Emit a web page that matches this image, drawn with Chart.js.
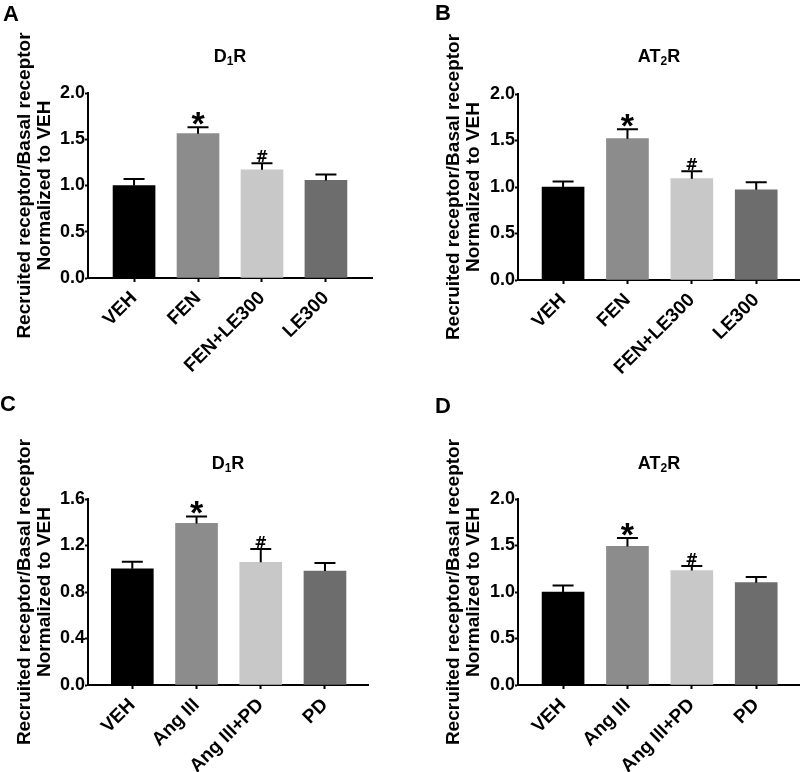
<!DOCTYPE html>
<html>
<head>
<meta charset="utf-8">
<script src="https://cdn.jsdelivr.net/npm/chart.js@4.4.1/dist/chart.umd.min.js"></script>
<style>
  html, body { margin: 0; padding: 0; background: #fff; }
  #wrap { position: relative; width: 800px; height: 772px; }
  .panel { position: absolute; width: 400px; height: 386px; }
</style>
</head>
<body>
<div id="wrap">
  <div class="panel" style="left:0;top:0"><canvas id="cA" width="400" height="386"></canvas></div>
  <div class="panel" style="left:400px;top:0"><canvas id="cB" width="400" height="386"></canvas></div>
  <div class="panel" style="left:0;top:386px"><canvas id="cC" width="400" height="386"></canvas></div>
  <div class="panel" style="left:400px;top:386px"><canvas id="cD" width="400" height="386"></canvas></div>
</div>
<script>
// categories
const fenLabels = ['VEH', 'FEN', 'FEN+LE300', 'LE300'];
const angLabels = ['VEH', 'Ang III', 'Ang III+PD', 'PD'];

// panel A: D1R, fenoldopam
const d1rFenMeans = [1.00, 1.56, 1.17, 1.055];
const d1rFenErr   = [0.07, 0.07, 0.07, 0.065];
// panel B: AT2R, fenoldopam
const at2rFenMeans = [1.00, 1.52, 1.09, 0.97];
const at2rFenErr   = [0.06, 0.10, 0.08, 0.08];
// panel C: D1R, Ang III
const d1rAngMeans = [1.00, 1.39, 1.055, 0.98];
const d1rAngErr   = [0.06, 0.06, 0.115, 0.07];
// panel D: AT2R, Ang III
const at2rAngMeans = [1.00, 1.49, 1.23, 1.10];
const at2rAngErr   = [0.07, 0.09, 0.05, 0.06];

// significance marks
const sigMarks = ['', '*', '#', ''];

// y tick settings
const yTicksFen = { max: 2.0, step: 0.5 };
const yTicksD1rAng = { max: 1.6, step: 0.4 };

const barColors = ['#000000', '#8c8c8c', '#c8c8c8', '#6d6d6d'];
const yTitle = ['Recruited receptor/Basal receptor', 'Normalized to VEH'];
const FONT = '"Liberation Sans", Arial, Helvetica, sans-serif';

function makePanel(id, cfg) {
  const g = cfg.geom;
  const H = 386;

  const errorBars = {
    id: 'errorBars' + id,
    afterDatasetsDraw(chart) {
      const { ctx, scales: { y } } = chart;
      const meta = chart.getDatasetMeta(0);
      ctx.save();
      ctx.strokeStyle = '#000';
      ctx.fillStyle = '#000';
      ctx.lineWidth = 2;
      meta.data.forEach((bar, i) => {
        const top = y.getPixelForValue(cfg.means[i] + cfg.errs[i]);
        const half = bar.width * 0.25;
        ctx.beginPath();
        ctx.moveTo(bar.x, bar.y);
        ctx.lineTo(bar.x, top);
        ctx.moveTo(bar.x - half, top);
        ctx.lineTo(bar.x + half, top);
        ctx.stroke();
        const m = sigMarks[i];
        ctx.textAlign = 'center';
        ctx.textBaseline = 'alphabetic';
        if (m === '*') {
          ctx.font = 'bold 34px ' + FONT;
          ctx.fillText(m, bar.x, top + 8);
        } else if (m === '#') {
          ctx.font = 'bold 15px "DejaVu Sans", sans-serif';
          ctx.fillText(m, bar.x, top - 1);
        }
      });
      ctx.restore();
    }
  };

  const panelText = {
    id: 'panelText' + id,
    afterDraw(chart) {
      const { ctx, chartArea } = chart;
      ctx.save();
      ctx.fillStyle = '#000';
      ctx.textBaseline = 'alphabetic';
      ctx.textAlign = 'left';
      // panel letter
      ctx.font = 'bold 22px ' + FONT;
      ctx.fillText(cfg.letter, cfg.letterPos[0], cfg.letterPos[1]);
      // title with subscript
      const big = 'bold 18px ' + FONT, small = 'bold 12px ' + FONT;
      ctx.font = big;
      const w1 = ctx.measureText(cfg.title[0]).width;
      const w3 = ctx.measureText(cfg.title[2]).width;
      ctx.font = small;
      const w2 = ctx.measureText(cfg.title[1]).width;
      const cx = (chartArea.left + chartArea.right) / 2;
      let x = cx - (w1 + w2 + w3) / 2;
      const by = cfg.titleBase;
      ctx.font = big;
      ctx.fillText(cfg.title[0], x, by);
      x += w1;
      ctx.font = small;
      ctx.fillText(cfg.title[1], x, by + 3);
      x += w2;
      ctx.font = big;
      ctx.fillText(cfg.title[2], x, by);
      ctx.restore();
    }
  };

  const labels = cfg.labels;
  new Chart(document.getElementById(id), {
    type: 'bar',
    data: {
      datasets: [{
        data: cfg.means.map((v, i) => ({ x: i, y: v })),
        backgroundColor: barColors,
        borderWidth: 0,
        barThickness: 42
      }]
    },
    options: {
      responsive: false,
      animation: false,
      events: [],
      layout: { padding: { left: 0, top: g.top, right: 400 - g.right, bottom: 0 } },
      plugins: { legend: { display: false }, tooltip: { enabled: false } },
      scales: {
        x: {
          type: 'linear',
          offset: false,
          min: cfg.xMin,
          max: cfg.xMax,
          z: 1,
          afterFit: (s) => { s.height = H - g.bottom; },
          afterBuildTicks: (s) => { s.ticks = labels.map((_, i) => ({ value: i })); },
          border: { display: true, color: '#000', width: 2 },
          grid: { offset: false, drawOnChartArea: false, drawTicks: true, tickLength: 4, tickWidth: 2, color: '#000' },
          ticks: {
            autoSkip: false,
            minRotation: 45,
            maxRotation: 45,
            padding: 5,
            color: '#000',
            font: { family: FONT, size: 19, weight: 'bold' },
            callback: (v) => labels[v]
          }
        },
        y: {
          min: 0,
          max: cfg.yTicks.max,
          z: 1,
          afterFit: (s) => { s.width = g.left; },
          border: { display: true, color: '#000', width: 2 },
          grid: { drawOnChartArea: false, drawTicks: true, tickLength: 3, tickWidth: 2, color: '#000' },
          ticks: {
            stepSize: cfg.yTicks.step,
            padding: 0,
            color: '#000',
            font: { family: FONT, size: 18, weight: 'bold' },
            callback: (v) => Number(v).toFixed(1)
          },
          title: {
            display: true,
            text: yTitle,
            color: '#000',
            font: { family: FONT, size: 19, weight: 'bold', lineHeight: 1.05 },
            padding: { top: cfg.titlePad, bottom: 0 }
          }
        }
      }
    },
    plugins: [errorBars, panelText]
  });
}

makePanel('cA', {
  labels: fenLabels, means: d1rFenMeans, errs: d1rFenErr, yTicks: yTicksFen,
  xMin: -0.72, xMax: 3.72, geom: { left: 88, top: 93, right: 372, bottom: 278 },
  titlePad: 15, letter: 'A', letterPos: [3, 21], title: ['D', '1', 'R'], titleBase: 62
});
makePanel('cB', {
  labels: fenLabels, means: at2rFenMeans, errs: at2rFenErr, yTicks: yTicksFen,
  xMin: -0.70, xMax: 3.68, geom: { left: 118, top: 94, right: 400, bottom: 280 },
  titlePad: 44, letter: 'B', letterPos: [35, 20], title: ['AT', '2', 'R'], titleBase: 62
});
makePanel('cC', {
  labels: angLabels, means: d1rAngMeans, errs: d1rAngErr, yTicks: yTicksD1rAng,
  xMin: -0.69, xMax: 3.67, geom: { left: 88, top: 113, right: 368, bottom: 299 },
  titlePad: 15, letter: 'C', letterPos: [0, 25], title: ['D', '1', 'R'], titleBase: 83
});
makePanel('cD', {
  labels: angLabels, means: at2rAngMeans, errs: at2rAngErr, yTicks: yTicksFen,
  xMin: -0.70, xMax: 3.68, geom: { left: 118, top: 113, right: 400, bottom: 299 },
  titlePad: 44, letter: 'D', letterPos: [35, 27], title: ['AT', '2', 'R'], titleBase: 83
});
</script>
</body>
</html>
